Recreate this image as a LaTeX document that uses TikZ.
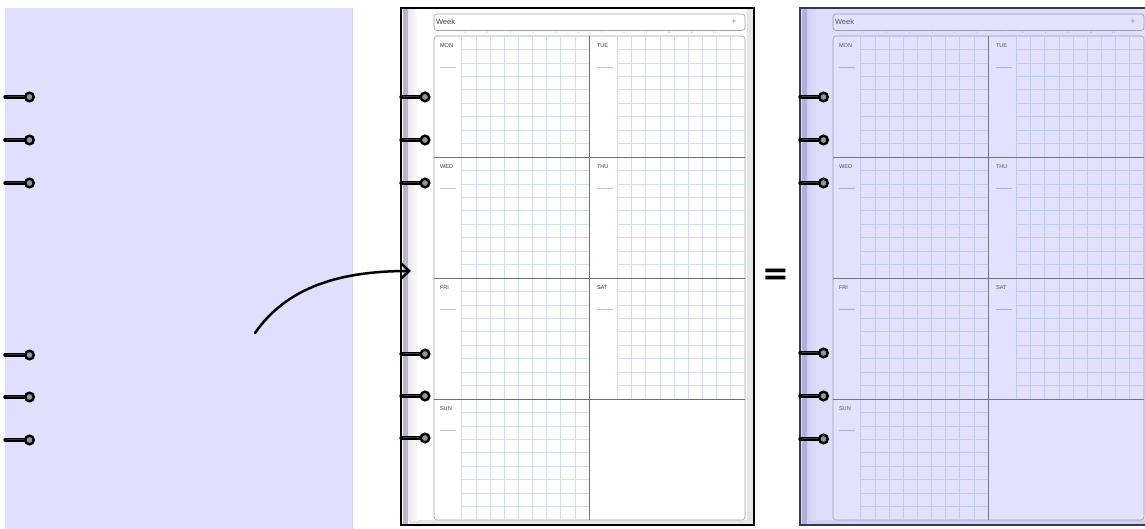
\documentclass[tikz,border=0pt]{standalone}
\usepackage{fontspec}
\setmainfont{Liberation Sans}
\newfontfamily\eqfont{DejaVu Sans}
\usetikzlibrary{arrows.meta}

\definecolor{lav}{HTML}{E0E0FE}
\definecolor{lavedge}{HTML}{D2D2EA}
% middle page colours
\definecolor{mfill}{HTML}{FFFFFF}
\definecolor{mbox}{HTML}{FFFFFF}
\definecolor{mboxline}{HTML}{A0A0A0}
\definecolor{mgrid}{HTML}{D0DBF7}
\definecolor{mdiv}{HTML}{707070}
\definecolor{mtext}{HTML}{3A3A3A}
\definecolor{mborder}{HTML}{000000}
\definecolor{mstrip}{HTML}{BDB3CF}
\definecolor{medge}{HTML}{E6E6E6}
\definecolor{mshade}{HTML}{EAEAEA}
\definecolor{mrule}{HTML}{C4C4C4}
\definecolor{mtick}{HTML}{999999}
% right page colours
\definecolor{rfill}{HTML}{DEDEFB}
\definecolor{rbox}{HTML}{E2E2FC}
\definecolor{rboxline}{HTML}{9A9AB4}
\definecolor{rgrid}{HTML}{C0C8F3}
\definecolor{rdiv}{HTML}{72728C}
\definecolor{rtext}{HTML}{50506A}
\definecolor{rborder}{HTML}{383850}
\definecolor{rstrip}{HTML}{B5AEDD}
\definecolor{redge}{HTML}{D2D2F0}
\definecolor{rshade}{HTML}{D0D0F2}
\definecolor{rrule}{HTML}{ABABCC}
\definecolor{rtick}{HTML}{9090B0}
\definecolor{eyegray}{HTML}{959595}

\tikzset{
  txt/.style={inner sep=0pt, outer sep=0pt},
  ringbar/.style={line width=3.4pt, line cap=round, black},
  ringhi/.style={line width=0.6pt, gray!45!black},
  ringeye/.style={draw=black, fill=eyegray, line width=2.4pt},
  flow/.style={line width=2.5pt, line cap=round, -{Straight Barb[length=8pt,width=15pt,line width=2.5pt]}},
}

\newcommand\plannerpage[2]{%
\begin{scope}[xshift=#1pt]
 \fill[#2fill] (401,8) rectangle (754,525);
 \fill[#2edge] (747,9) rectangle (753,524);
 \fill[#2edge] (409,520) rectangle (753,524);
 \shade[left color=#2shade, right color=#2fill] (408,9) rectangle (418,520);
 \fill[#2strip] (403,9) rectangle (408,524);
 \draw[#2boxline, fill=#2box, rounded corners=3pt, line width=0.6pt] (434,14) rectangle (745,30.5);
 \node[txt, text=#2text, font=\fontsize{7.5}{8}\selectfont, anchor=west] (#2week) at (436,22) {Week};
 \node[txt, text=#2tick, font=\fontsize{9}{9}\selectfont] (#2plus) at (734,22) {+};
 \foreach \i in {1,...,12}
   \node[txt, text=#2tick, font=\fontsize{2.2}{2.2}\selectfont] (#2tick\i) at ({465+22.7*(\i-1)},33) {\i};
 \draw[#2boxline, fill=#2box, rounded corners=3pt, line width=0.6pt] (434,36) rectangle (745,520);
 % grid
 \foreach \k in {0,...,8}
   \draw[#2grid, line width=0.6pt] ({461.7+14.15*\k},36.5) -- ({461.7+14.15*\k},519.5);
 \foreach \k in {0,...,8}
   \draw[#2grid, line width=0.6pt] ({617.3+14.18*\k},36.5) -- ({617.3+14.18*\k},399);
 \foreach \r in {0,1,2}
   \foreach \j in {1,...,8} {
     \draw[#2grid, line width=0.6pt] (461.7,{36+121*\r+13.44*\j}) -- (589,{36+121*\r+13.44*\j});
     \draw[#2grid, line width=0.6pt] (617.3,{36+121*\r+13.44*\j}) -- (745,{36+121*\r+13.44*\j});
   }
 \foreach \j in {1,...,8}
   \draw[#2grid, line width=0.6pt] (461.7,{399+13.44*\j}) -- (589,{399+13.44*\j});
 % dividers
 \draw[#2div, line width=0.8pt] (589,36) -- (589,520);
 \foreach \yy in {157,278,399}
   \draw[#2div, line width=0.8pt] (434,\yy) -- (745,\yy);
 % day labels
 \foreach \d/\c/\r in {MON/0/0,TUE/1/0,WED/0/1,THU/1/1,FRI/0/2,SAT/1/2,SUN/0/3} {
   \node[txt, text=#2text, font=\fontsize{5.6}{6}\selectfont, anchor=west] (#2\d) at ({440+157*\c},{36+121*\r+10}) {\d};
   \draw[#2rule, line width=0.5pt] ({440+157*\c},{36+121*\r+31}) -- ({456+157*\c},{36+121*\r+31});
 }
 \draw[#2border, line width=2pt] (401,8) rectangle (754,525);
\end{scope}}

\newcommand\ringat[3]{% bar start x, eye x, y
 \draw[ringbar] (#1,#3) -- (#2,#3);
 \draw[ringhi] ({#1+2},{#3-0.6}) -- ({#2-6},{#3-0.6});
 \draw[ringeye] (#2,#3) circle (4.3);
}

\begin{document}
\begin{tikzpicture}[x=1pt, y=-1pt]
\useasboundingbox (0,0) rectangle (1145,529);
\fill[white] (0,0) rectangle (1145,529);

% left sheet
\fill[lav] (5,8) rectangle (352,529);
\draw[lavedge, line width=0.8pt] (352,8) -- (352,529);
\foreach \yy in {97,140,183,355,397,440} { \ringat{5}{29.5}{\yy} }

% middle planner page
\plannerpage{0}{m}
\foreach \yy in {97,140,183,354,396,438} { \ringat{401}{425}{\yy} }

% right planner page (tinted)
\begin{scope}
 \clip (0,0) rectangle (1145,529);
 \plannerpage{399}{r}
\end{scope}
\foreach \yy in {97,140,183,353,396,439} { \ringat{800}{823.5}{\yy} }

% arrow
\coordinate (arrowstart) at (255,333);
\coordinate (arrowend) at (411,271);
\draw[flow] (arrowstart) .. controls (287,287) and (340,271) .. (arrowend);

% equals
\node[txt, font=\eqfont\bfseries\fontsize{32}{32}\selectfont] (equals) at (776,277) {=};
\end{tikzpicture}
\end{document}
